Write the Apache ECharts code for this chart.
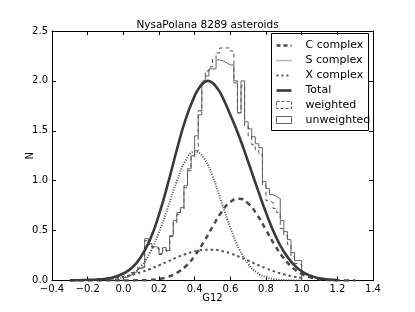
<!DOCTYPE html>
<html><head><meta charset="utf-8">
<script src="https://cdn.jsdelivr.net/npm/echarts@6/dist/echarts.min.js"></script>
<style>html,body{margin:0;padding:0;background:#fff}#c{width:415px;height:312px}</style>
</head><body><div id="c"></div>
<script>
const curveX = [-0.3,-0.25,-0.2,-0.15,-0.1,-0.05,0,0.05,0.1,0.15,0.2,0.25,0.3,0.35,0.4,0.45,0.5,0.55,0.6,0.65,0.7,0.75,0.8,0.85,0.9,0.95,1.0,1.05,1.1,1.15,1.2,1.25,1.3];
const cComplex = [0,0,0,0,0,0,0,0.001,0.002,0.006,0.016,0.036,0.076,0.143,0.246,0.383,0.538,0.684,0.787,0.82,0.772,0.658,0.507,0.353,0.223,0.127,0.066,0.031,0.013,0.005,0.002,0,0];
const sComplex = [null,null,null,null,0.003,0.010,0.028,0.067,0.146,0.281,0.481,0.734,0.996,1.202,1.289,1.230,1.044,0.788,0.529,0.316,0.168,0.079,0.033,0.012,0.004,0.001,0,null,null,null,null,null,null];
const xComplex = [null,null,null,null,0.014,0.024,0.038,0.057,0.083,0.115,0.152,0.191,0.231,0.266,0.292,0.307,0.309,0.296,0.272,0.238,0.199,0.159,0.122,0.089,0.062,0.041,0.026,null,null,null,null,null,null];
const totalX = [-0.3,-0.25,-0.2,-0.15,-0.1,-0.05,0,0.05,0.1,0.15,0.2,0.25,0.3,0.35,0.4,0.425,0.45,0.475,0.5,0.525,0.55,0.6,0.65,0.7,0.75,0.8,0.85,0.9,0.95,1.0,1.05,1.1,1.15,1.2];
const total  = [0.001,0.003,0.006,0.010,0.018,0.036,0.07,0.13,0.24,0.41,0.66,0.97,1.31,1.62,1.85,1.93,1.98,2.0,1.98,1.93,1.86,1.66,1.44,1.19,0.93,0.68,0.46,0.29,0.17,0.092,0.047,0.022,0.010,0.004];

const binStart = 0.0, binWidth = 0.02;
const unweighted = [0.03,0.05,0.07,0.09,0.12,0.13,0.42,0.37,0.34,0.33,0.27,0.33,0.30,0.45,0.60,0.68,0.73,0.95,1.12,1.25,1.45,1.66,1.99,2.05,2.12,2.12,2.21,2.20,2.18,2.16,2.16,1.98,1.68,2.00,1.59,1.52,1.44,1.37,1.33,0.99,0.92,0.86,0.84,0.82,0.60,0.49,0.41,0.28,0.20,0.20];
const weighted   = [0.03,0.05,0.08,0.10,0.13,0.14,0.40,0.36,0.33,0.32,0.26,0.32,0.29,0.44,0.58,0.66,0.71,0.93,1.10,1.24,1.30,1.70,2.00,2.10,2.14,2.22,2.28,2.33,2.33,2.33,2.30,2.00,1.68,1.95,1.55,1.45,1.36,1.30,1.26,0.95,0.80,0.78,0.72,0.68,0.52,0.45,0.36,0.24,0.17,0.16];

function stepData(vals){
  const d=[[binStart,0]];
  vals.forEach((v,i)=>d.push([+(binStart+i*binWidth).toFixed(4),v]));
  d.push([+(binStart+vals.length*binWidth).toFixed(4),0]);
  return d;
}
function pairs(xs,ys){return xs.map((x,i)=>[x,ys[i]]);}

const ink='#000';
const fmt=v=>(v<0?'\u2212':'')+Math.abs(v).toFixed(1);
const chart=echarts.init(document.getElementById('c'),null,{renderer:'canvas'});
const font='DejaVu Sans';
const axisCommon={axisLine:{show:true,onZero:false,lineStyle:{color:ink,width:1}},splitLine:{show:false},
  axisTick:{show:true,inside:true,length:4,lineStyle:{color:ink}}};
chart.setOption({
  animation:false,
  title:{text:'NysaPolana 8289 asteroids',left:'center',top:15,textStyle:{fontFamily:font,fontSize:10.5,fontWeight:'normal',color:ink}},
  grid:{left:52,right:42,top:31,bottom:31.5},
  xAxis:[
    Object.assign({type:'value',min:-0.4,max:1.4,interval:0.2,position:'bottom',name:'G12',nameLocation:'middle',nameGap:13,nameMoveOverlap:false,
      nameTextStyle:{fontFamily:font,fontSize:10,color:ink,verticalAlign:'top'},
      axisLabel:{formatter:fmt,fontFamily:font,fontSize:10,color:ink,margin:4}},axisCommon),
    Object.assign({type:'value',min:-0.4,max:1.4,interval:0.2,position:'top',axisLabel:{show:false}},axisCommon)
  ],
  yAxis:[
    Object.assign({type:'value',min:0,max:2.5,interval:0.5,position:'left',name:'N',nameLocation:'middle',nameGap:17,nameMoveOverlap:false,
      nameTextStyle:{fontFamily:font,fontSize:10,color:ink},
      axisLabel:{formatter:v=>v.toFixed(1),fontFamily:font,fontSize:10,color:ink,margin:4}},axisCommon),
    Object.assign({type:'value',min:0,max:2.5,interval:0.5,position:'right',axisLabel:{show:false}},axisCommon)
  ],
  series:[
    {name:'unweighted',type:'line',step:'end',symbol:'none',data:stepData(unweighted),lineStyle:{color:'#666',width:1},z:2},
    {name:'weighted',type:'line',step:'end',symbol:'none',data:stepData(weighted),lineStyle:{color:'#555',width:1,type:[4,3]},z:2},
    {name:'C complex',type:'line',smooth:true,symbol:'none',data:pairs(curveX,cComplex),lineStyle:{color:'#4a4a4a',width:2.5,type:[5,4]},z:3},
    {name:'S complex',type:'line',smooth:true,symbol:'none',data:pairs(curveX,sComplex),lineStyle:{color:'#555',width:2,type:[1,1.5]},z:3},
    {name:'X complex',type:'line',smooth:true,symbol:'none',data:pairs(curveX,xComplex),lineStyle:{color:'#555',width:2,type:[2.5,3]},z:3},
    {name:'Total',type:'line',smooth:true,symbol:'none',data:pairs(totalX,total),lineStyle:{color:'#3a3a3a',width:2.6},z:4}
  ],
  graphic:[{type:'group',left:271,top:33,children:[
    {type:'rect',shape:{x:0,y:0,width:97,height:97},style:{fill:'#fff',stroke:ink,lineWidth:1}},
    {type:'line',shape:{x1:5,y1:12,x2:20,y2:12},style:{stroke:'#4a4a4a',lineWidth:2.5,lineDash:[4,3]}},
    {type:'line',shape:{x1:5,y1:27,x2:20,y2:27},style:{stroke:'#666',lineWidth:1.4,lineDash:[1,1]}},
    {type:'line',shape:{x1:5,y1:42,x2:20,y2:42},style:{stroke:'#555',lineWidth:2,lineDash:[2,3]}},
    {type:'line',shape:{x1:5,y1:57,x2:20,y2:57},style:{stroke:'#3a3a3a',lineWidth:2.6}},
    {type:'rect',shape:{x:5,y:68,width:15,height:7},style:{fill:'#fff',stroke:'#555',lineWidth:1,lineDash:[3,2]}},
    {type:'rect',shape:{x:5,y:83,width:15,height:7},style:{fill:'#fff',stroke:'#666',lineWidth:1}},
    {type:'text',x:34,y:12,style:{text:'C complex',fontFamily:font,fontSize:11,fill:ink,verticalAlign:'middle'}},
    {type:'text',x:34,y:27,style:{text:'S complex',fontFamily:font,fontSize:11,fill:ink,verticalAlign:'middle'}},
    {type:'text',x:34,y:42,style:{text:'X complex',fontFamily:font,fontSize:11,fill:ink,verticalAlign:'middle'}},
    {type:'text',x:34,y:57,style:{text:'Total',fontFamily:font,fontSize:11,fill:ink,verticalAlign:'middle'}},
    {type:'text',x:34,y:72,style:{text:'weighted',fontFamily:font,fontSize:11,fill:ink,verticalAlign:'middle'}},
    {type:'text',x:34,y:87,style:{text:'unweighted',fontFamily:font,fontSize:11,fill:ink,verticalAlign:'middle'}}
  ]}]
});
</script></body></html>
